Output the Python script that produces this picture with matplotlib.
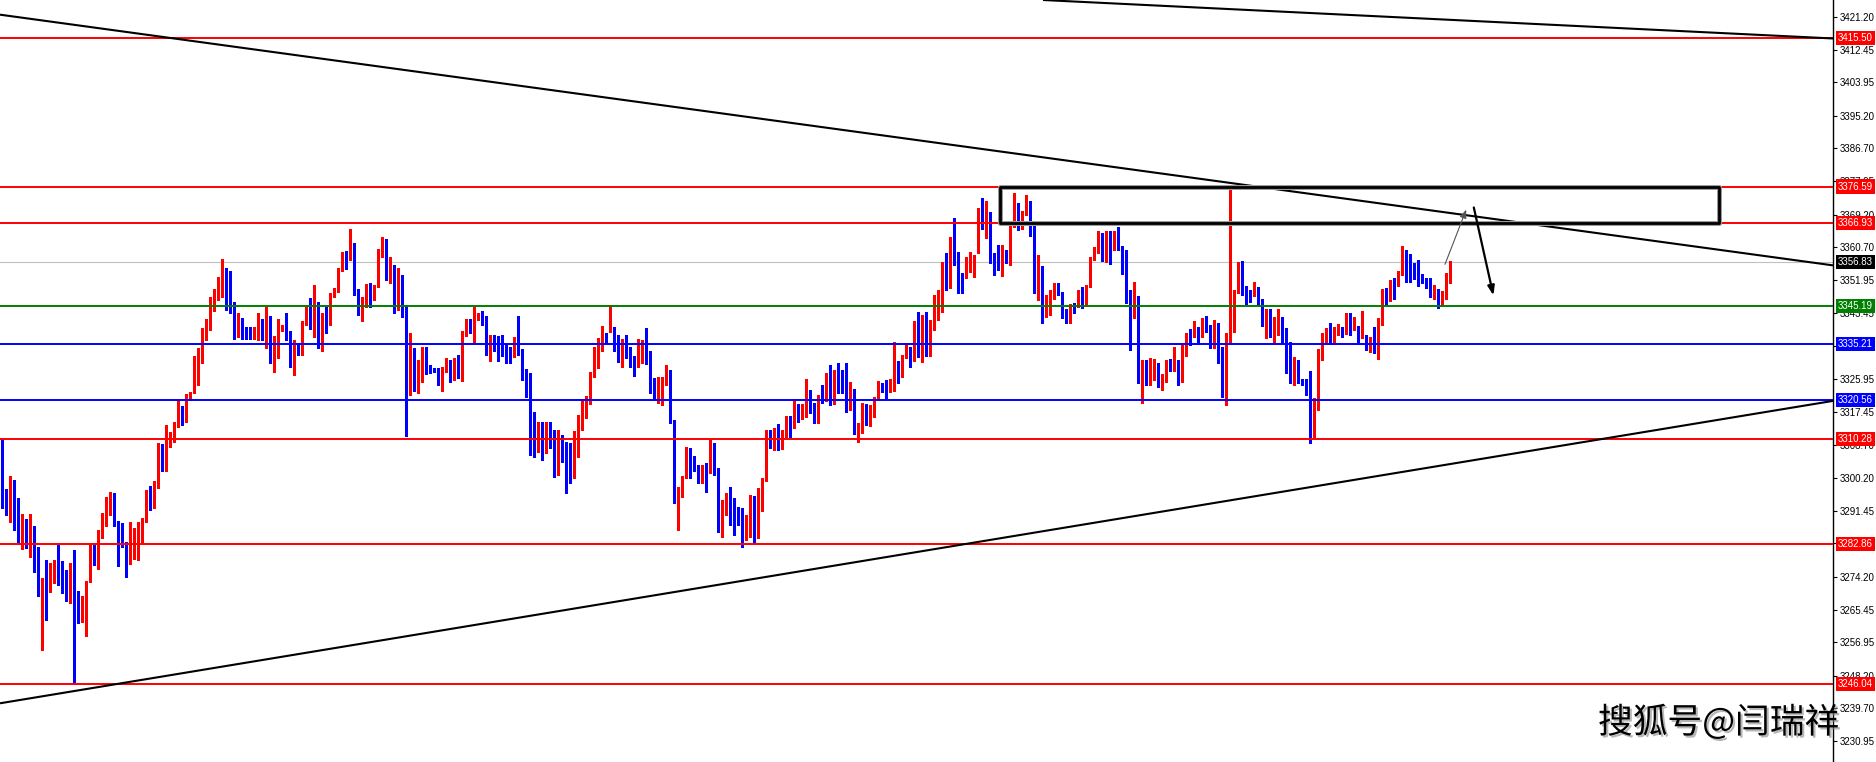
import matplotlib
matplotlib.use("Agg")
import matplotlib.pyplot as plt
import matplotlib.patheffects as pe
from matplotlib.patches import Rectangle
import numpy as np

# OHLC, one value per bar
opens = [
    3308.5, 3294.1, 3293.4, 3296.9, 3294.8, 3283.9, 3289.3, 3282.1, 3285.2, 3281.0,
    3269.4, 3274.0, 3271.8, 3274.0, 3277.3, 3277.0, 3275.5, 3269.9, 3275.5, 3263.5,
    3263.0, 3263.9, 3272.9, 3279.6, 3278.4, 3284.9, 3288.6, 3291.7, 3292.6, 3288.8,
    3287.5, 3283.1, 3277.5, 3281.7, 3284.3, 3286.9, 3288.9, 3296.9, 3293.3, 3297.9,
    3308.3, 3302.7, 3311.0, 3312.1, 3314.0, 3317.5, 3315.5, 3320.6, 3322.4, 3328.0,
    3330.6, 3339.0, 3339.0, 3345.1, 3348.3, 3348.1, 3354.5, 3350.5, 3345.5, 3339.9,
    3341.3, 3339.4, 3337.7, 3337.4, 3338.3, 3341.4, 3338.1, 3339.0, 3331.7, 3336.8,
    3339.2, 3339.8, 3338.5, 3333.0, 3334.6, 3332.8, 3341.1, 3344.2, 3337.2, 3345.3,
    3338.3, 3342.9, 3340.7, 3348.1, 3349.3, 3354.5, 3358.2, 3358.0, 3361.7, 3349.3,
    3344.4, 3345.5, 3350.9, 3347.0, 3350.3, 3359.1, 3361.9, 3352.7, 3355.8, 3345.3,
    3353.0, 3345.3, 3324.1, 3331.5, 3324.1, 3327.6, 3333.5, 3328.7, 3328.6, 3328.5,
    3325.1, 3328.5, 3330.2, 3328.3, 3329.5, 3326.7, 3337.7, 3340.5, 3339.0, 3342.3,
    3342.5, 3342.5, 3333.9, 3336.5, 3334.3, 3333.7, 3333.5, 3333.0, 3332.0, 3335.5,
    3333.3, 3328.3, 3326.1, 3316.2, 3308.3, 3311.8, 3307.3, 3312.9, 3309.8, 3301.5,
    3308.5, 3308.5, 3301.8, 3301.4, 3309.2, 3316.0, 3317.5, 3320.6, 3326.9, 3331.3,
    3333.9, 3337.0, 3338.5, 3339.4, 3334.6, 3333.9, 3334.6, 3334.1, 3331.1, 3329.1,
    3333.5, 3335.9, 3333.3, 3323.2, 3321.5, 3324.3, 3324.5, 3327.9, 3314.9, 3295.9,
    3297.7, 3300.0, 3305.9, 3305.3, 3302.4, 3301.2, 3302.0, 3301.5, 3309.0, 3301.5,
    3288.0, 3292.8, 3293.4, 3292.1, 3291.9, 3291.5, 3284.5, 3288.6, 3295.2, 3284.5,
    3295.7, 3299.6, 3311.8, 3309.2, 3311.4, 3308.8, 3310.9, 3315.5, 3313.1, 3319.2,
    3316.6, 3316.9, 3321.4, 3318.8, 3315.1, 3321.9, 3320.4, 3325.1, 3320.4, 3328.4,
    3326.0, 3324.9, 3319.9, 3323.4, 3312.2, 3314.3, 3319.2, 3314.4, 3316.6, 3320.7,
    3324.5, 3323.9, 3322.7, 3323.0, 3330.0, 3329.1, 3332.2, 3333.4, 3331.5, 3333.7,
    3332.6, 3341.6, 3332.4, 3338.9, 3345.1, 3347.0, 3355.1, 3351.6, 3360.8, 3358.6,
    3353.4, 3352.9, 3355.6, 3355.7, 3362.6, 3369.1, 3366.9, 3367.4, 3358.2, 3357.0,
    3356.4, 3359.5, 3357.5, 3367.1, 3371.8, 3365.6, 3370.0, 3372.2, 3363.9, 3349.9,
    3354.9, 3342.9, 3347.3, 3347.3, 3350.7, 3348.6, 3343.9, 3343.9, 3345.5, 3345.1,
    3347.2, 3345.5, 3350.3, 3357.3, 3359.8, 3361.7, 3357.3, 3364.3, 3360.4, 3363.0,
    3360.8, 3354.4, 3348.7, 3346.1, 3347.7, 3328.3, 3328.9, 3324.9, 3328.3, 3330.0,
    3323.4, 3325.8, 3330.9, 3330.0, 3330.9, 3325.6, 3333.7, 3338.1, 3337.4, 3338.9,
    3337.4, 3341.6, 3339.8, 3334.4, 3338.9, 3334.1, 3326.2, 3337.9, 3343.5, 3348.6,
    3354.5, 3350.1, 3347.0, 3348.4, 3349.0, 3345.9, 3340.2, 3343.7, 3340.9, 3341.1,
    3342.4, 3339.4, 3335.6, 3325.4, 3328.4, 3325.4, 3325.4, 3323.9, 3312.7, 3319.5,
    3333.7, 3335.9, 3338.2, 3336.8, 3338.1, 3339.4, 3340.2, 3342.9, 3339.8, 3339.8,
    3337.2, 3337.2, 3334.5, 3336.7, 3333.0, 3341.6, 3349.4, 3346.8, 3352.0, 3350.7,
    3353.8, 3359.8, 3355.5, 3354.5, 3353.4, 3353.4, 3352.1, 3351.0, 3347.7, 3349.4,
    3347.2, 3349.0, 3351.4,
]
highs = [
    3310.5, 3297.1, 3300.6, 3299.6, 3294.8, 3290.7, 3289.3, 3290.7, 3287.5, 3282.1,
    3273.8, 3278.6, 3277.7, 3278.6, 3282.5, 3278.2, 3276.0, 3277.9, 3281.2, 3270.5,
    3269.0, 3273.1, 3282.5, 3282.5, 3286.5, 3290.8, 3295.2, 3296.3, 3296.1, 3288.8,
    3288.4, 3283.4, 3288.6, 3286.9, 3288.6, 3289.5, 3296.9, 3298.0, 3299.2, 3309.2,
    3309.0, 3314.0, 3312.1, 3314.9, 3320.6, 3318.9, 3322.1, 3322.6, 3332.0, 3334.2,
    3339.4, 3341.8, 3347.7, 3349.6, 3352.8, 3357.5, 3355.1, 3354.3, 3346.4, 3343.3,
    3342.0, 3339.8, 3339.8, 3339.8, 3343.5, 3341.8, 3344.9, 3342.6, 3337.4, 3341.9,
    3340.3, 3343.5, 3338.8, 3336.4, 3335.5, 3341.3, 3345.1, 3347.4, 3350.8, 3346.4,
    3343.3, 3345.1, 3348.6, 3349.9, 3355.1, 3359.3, 3359.7, 3365.4, 3361.9, 3349.6,
    3347.7, 3350.9, 3351.2, 3350.8, 3360.1, 3363.3, 3362.8, 3358.0, 3356.0, 3355.1,
    3353.4, 3345.5, 3338.1, 3334.3, 3331.1, 3334.6, 3334.6, 3329.8, 3328.9, 3328.9,
    3329.3, 3331.5, 3331.1, 3331.5, 3332.4, 3338.7, 3341.9, 3341.9, 3344.9, 3343.5,
    3343.8, 3342.5, 3337.6, 3337.5, 3337.4, 3337.6, 3335.3, 3334.6, 3337.2, 3342.5,
    3333.9, 3328.6, 3327.6, 3317.5, 3314.9, 3314.9, 3314.7, 3314.9, 3312.7, 3312.7,
    3311.4, 3309.6, 3309.2, 3312.3, 3316.7, 3320.8, 3321.5, 3327.8, 3334.6, 3336.8,
    3340.0, 3338.1, 3345.5, 3339.8, 3337.6, 3336.5, 3337.6, 3334.6, 3332.0, 3336.5,
    3336.4, 3339.4, 3333.3, 3326.3, 3326.7, 3326.7, 3329.8, 3328.5, 3315.3, 3297.8,
    3300.5, 3308.3, 3307.9, 3305.9, 3303.5, 3303.5, 3304.0, 3310.1, 3309.2, 3302.7,
    3294.3, 3296.1, 3297.7, 3294.8, 3292.6, 3292.1, 3290.4, 3295.7, 3295.4, 3297.4,
    3300.0, 3312.7, 3312.7, 3313.2, 3314.3, 3312.7, 3316.4, 3316.4, 3320.7, 3319.5,
    3319.5, 3326.0, 3323.2, 3319.7, 3321.9, 3324.5, 3327.7, 3329.8, 3328.4, 3330.2,
    3328.4, 3330.2, 3325.4, 3323.4, 3314.4, 3319.7, 3319.5, 3319.2, 3321.4, 3325.6,
    3324.9, 3325.8, 3326.0, 3335.9, 3330.9, 3332.4, 3335.6, 3334.6, 3341.3, 3343.7,
    3342.9, 3343.7, 3341.6, 3348.1, 3349.4, 3356.9, 3359.1, 3363.3, 3368.4, 3359.5,
    3353.8, 3358.2, 3359.5, 3358.6, 3370.9, 3373.7, 3372.9, 3370.0, 3359.2, 3361.2,
    3361.2, 3360.0, 3367.4, 3374.8, 3372.4, 3370.3, 3374.4, 3372.8, 3366.5, 3358.6,
    3355.7, 3348.1, 3349.4, 3351.2, 3351.2, 3349.0, 3344.4, 3345.8, 3345.9, 3349.4,
    3350.3, 3350.7, 3358.0, 3360.8, 3364.8, 3364.3, 3365.0, 3365.0, 3364.8, 3365.9,
    3361.0, 3359.9, 3349.4, 3351.6, 3347.9, 3331.1, 3331.1, 3331.5, 3331.2, 3330.4,
    3327.4, 3331.1, 3331.2, 3334.5, 3331.1, 3335.0, 3338.2, 3339.1, 3341.4, 3339.8,
    3342.0, 3342.6, 3340.2, 3341.6, 3340.7, 3334.5, 3338.1, 3376.6, 3349.4, 3356.9,
    3357.1, 3350.5, 3349.4, 3351.6, 3350.1, 3347.2, 3344.4, 3344.4, 3342.4, 3344.4,
    3342.4, 3339.4, 3335.9, 3331.9, 3331.1, 3326.0, 3326.0, 3328.3, 3321.0, 3333.9,
    3338.2, 3339.4, 3340.7, 3339.8, 3340.4, 3339.6, 3343.5, 3343.3, 3342.4, 3340.1,
    3344.0, 3337.6, 3337.2, 3339.6, 3342.0, 3349.6, 3349.9, 3352.1, 3352.5, 3354.5,
    3361.0, 3359.9, 3358.9, 3356.4, 3357.3, 3353.6, 3352.5, 3352.5, 3350.7, 3349.6,
    3349.3, 3354.0, 3357.0,
]
lows = [
    3292.1, 3290.4, 3288.6, 3286.5, 3283.0, 3281.4, 3281.7, 3279.3, 3275.5, 3269.0,
    3255.0, 3262.9, 3270.3, 3272.5, 3272.0, 3270.0, 3267.7, 3267.2, 3246.1, 3262.1,
    3262.4, 3258.7, 3272.9, 3277.3, 3276.1, 3284.3, 3287.4, 3290.4, 3287.5, 3276.9,
    3281.9, 3274.0, 3277.5, 3278.8, 3278.6, 3283.2, 3288.6, 3291.7, 3292.1, 3297.4,
    3301.8, 3301.8, 3308.2, 3309.6, 3313.4, 3314.0, 3314.9, 3320.6, 3322.4, 3324.5,
    3330.2, 3336.4, 3339.0, 3344.0, 3346.8, 3347.7, 3344.2, 3343.3, 3336.5, 3337.2,
    3336.5, 3336.5, 3336.5, 3336.5, 3336.4, 3336.4, 3334.2, 3330.4, 3328.0, 3331.5,
    3338.7, 3336.4, 3329.3, 3327.0, 3332.4, 3332.4, 3340.3, 3339.3, 3337.2, 3334.3,
    3333.5, 3338.1, 3340.3, 3347.7, 3349.0, 3354.3, 3355.0, 3357.3, 3348.1, 3342.9,
    3341.4, 3345.1, 3345.1, 3346.8, 3350.2, 3358.2, 3352.1, 3351.2, 3343.3, 3344.2,
    3342.4, 3311.1, 3321.9, 3323.0, 3322.5, 3325.4, 3327.4, 3327.6, 3328.0, 3324.5,
    3323.0, 3328.0, 3325.4, 3325.8, 3326.3, 3325.6, 3337.4, 3338.1, 3335.9, 3341.6,
    3340.3, 3332.4, 3330.8, 3333.3, 3330.8, 3332.0, 3330.4, 3330.4, 3331.8, 3332.4,
    3325.7, 3321.3, 3306.0, 3305.5, 3307.0, 3304.7, 3306.6, 3307.9, 3300.3, 3300.9,
    3304.4, 3296.1, 3298.9, 3300.0, 3305.7, 3312.7, 3315.8, 3319.5, 3326.7, 3328.9,
    3333.5, 3335.5, 3338.5, 3333.3, 3330.6, 3329.3, 3331.5, 3329.3, 3326.9, 3329.1,
    3330.2, 3330.0, 3322.5, 3320.6, 3319.9, 3319.3, 3324.5, 3314.5, 3293.6, 3286.5,
    3295.2, 3300.0, 3300.0, 3301.8, 3298.9, 3298.9, 3296.5, 3301.5, 3300.9, 3286.0,
    3284.5, 3290.4, 3287.8, 3285.2, 3287.8, 3282.1, 3283.8, 3284.5, 3283.0, 3284.3,
    3291.3, 3299.2, 3307.9, 3307.4, 3307.4, 3307.6, 3310.9, 3310.9, 3313.1, 3314.9,
    3315.5, 3316.2, 3317.1, 3314.6, 3314.4, 3319.9, 3320.4, 3319.2, 3319.5, 3322.3,
    3322.5, 3317.5, 3317.9, 3311.6, 3309.6, 3311.8, 3314.0, 3313.7, 3316.2, 3320.7,
    3322.7, 3321.0, 3322.7, 3323.0, 3324.9, 3326.7, 3331.5, 3329.1, 3330.9, 3331.9,
    3330.6, 3332.1, 3332.1, 3338.9, 3341.6, 3343.7, 3349.4, 3349.9, 3356.0, 3348.7,
    3348.7, 3352.6, 3354.2, 3352.9, 3359.2, 3365.4, 3363.0, 3356.4, 3353.4, 3354.7,
    3353.1, 3356.6, 3356.0, 3366.1, 3365.2, 3365.4, 3369.1, 3363.6, 3348.7, 3346.8,
    3340.7, 3342.4, 3342.9, 3347.0, 3348.1, 3342.0, 3340.7, 3340.9, 3343.5, 3345.1,
    3344.6, 3345.2, 3350.1, 3357.3, 3359.2, 3357.1, 3356.9, 3356.3, 3359.9, 3359.9,
    3353.6, 3345.9, 3333.7, 3342.0, 3324.9, 3319.7, 3324.5, 3324.5, 3325.8, 3324.1,
    3323.2, 3325.4, 3328.3, 3328.3, 3324.5, 3325.4, 3332.1, 3335.0, 3337.2, 3335.3,
    3337.2, 3338.5, 3334.1, 3334.1, 3330.4, 3321.4, 3319.2, 3335.9, 3338.5, 3348.6,
    3348.1, 3345.8, 3346.4, 3347.9, 3345.5, 3340.0, 3336.8, 3337.2, 3335.9, 3337.6,
    3335.4, 3327.7, 3324.9, 3324.5, 3324.9, 3324.5, 3321.9, 3309.4, 3310.8, 3317.9,
    3331.1, 3335.4, 3335.6, 3335.3, 3337.6, 3337.2, 3337.9, 3337.6, 3338.9, 3335.3,
    3336.8, 3333.7, 3333.2, 3333.0, 3331.2, 3340.3, 3345.8, 3346.6, 3347.2, 3350.5,
    3353.4, 3351.6, 3351.6, 3352.2, 3350.5, 3351.4, 3349.9, 3347.5, 3347.2, 3344.6,
    3345.2, 3347.0, 3351.4,
]
closes = [
    3293.6, 3293.4, 3296.9, 3294.8, 3283.9, 3288.8, 3282.1, 3285.2, 3280.8, 3269.4,
    3273.8, 3271.8, 3274.2, 3277.3, 3276.9, 3275.3, 3269.9, 3274.0, 3263.3, 3263.0,
    3264.2, 3273.1, 3279.6, 3278.4, 3285.2, 3288.6, 3291.7, 3292.6, 3288.6, 3287.4,
    3283.0, 3277.3, 3283.0, 3284.5, 3286.9, 3289.1, 3296.9, 3293.4, 3298.0, 3308.3,
    3302.4, 3311.1, 3312.1, 3314.5, 3317.5, 3315.3, 3320.8, 3322.6, 3328.0, 3331.1,
    3339.4, 3339.2, 3345.5, 3348.0, 3349.0, 3354.5, 3350.3, 3343.3, 3340.0, 3341.3,
    3339.1, 3337.4, 3337.5, 3338.3, 3341.2, 3338.3, 3339.0, 3334.2, 3336.5, 3339.4,
    3339.8, 3338.5, 3333.0, 3334.6, 3333.0, 3341.3, 3343.9, 3341.6, 3345.3, 3337.0,
    3342.9, 3340.5, 3348.4, 3349.6, 3354.7, 3358.2, 3356.6, 3361.7, 3349.0, 3344.4,
    3345.5, 3350.8, 3345.5, 3350.5, 3359.3, 3361.9, 3352.7, 3355.8, 3345.3, 3353.0,
    3345.3, 3324.1, 3331.5, 3324.1, 3327.6, 3333.5, 3328.5, 3328.5, 3328.5, 3325.4,
    3328.6, 3330.2, 3328.3, 3329.5, 3326.7, 3337.8, 3340.5, 3339.0, 3342.5, 3342.6,
    3342.3, 3333.9, 3336.5, 3333.9, 3333.5, 3333.3, 3332.7, 3332.0, 3337.0, 3333.0,
    3328.3, 3326.1, 3315.8, 3308.3, 3311.8, 3307.3, 3312.9, 3309.4, 3301.5, 3308.5,
    3308.3, 3301.5, 3301.4, 3309.2, 3316.2, 3317.5, 3320.6, 3327.2, 3331.5, 3334.2,
    3336.8, 3335.6, 3339.4, 3334.1, 3333.9, 3334.6, 3333.9, 3331.1, 3329.1, 3333.7,
    3335.9, 3333.3, 3323.0, 3321.5, 3324.3, 3324.5, 3328.0, 3314.6, 3295.9, 3297.8,
    3300.3, 3305.9, 3304.9, 3302.2, 3301.2, 3302.0, 3301.5, 3309.0, 3301.4, 3288.0,
    3292.8, 3293.4, 3288.6, 3291.3, 3291.3, 3284.5, 3288.6, 3295.2, 3284.5, 3295.9,
    3299.7, 3311.8, 3309.2, 3311.4, 3308.8, 3311.1, 3315.5, 3313.1, 3319.2, 3316.6,
    3317.1, 3321.4, 3318.6, 3315.1, 3321.9, 3320.6, 3324.9, 3320.6, 3328.4, 3326.0,
    3324.7, 3320.1, 3323.4, 3312.2, 3314.4, 3319.2, 3314.4, 3316.6, 3321.0, 3324.5,
    3323.0, 3322.3, 3323.2, 3330.0, 3329.3, 3332.4, 3333.4, 3331.5, 3333.7, 3332.4,
    3341.6, 3332.4, 3339.2, 3345.2, 3347.3, 3355.1, 3351.6, 3360.8, 3358.4, 3352.9,
    3352.9, 3355.7, 3356.0, 3357.0, 3369.1, 3366.2, 3367.4, 3357.7, 3356.9, 3356.6,
    3359.5, 3357.3, 3367.4, 3371.8, 3365.6, 3370.3, 3372.0, 3363.9, 3349.9, 3351.0,
    3342.9, 3348.1, 3348.1, 3350.7, 3348.6, 3343.7, 3342.6, 3345.5, 3345.1, 3347.2,
    3345.5, 3350.5, 3357.5, 3360.1, 3361.7, 3357.5, 3364.3, 3360.4, 3363.0, 3360.8,
    3354.0, 3348.4, 3345.9, 3347.7, 3328.4, 3328.9, 3324.9, 3328.4, 3330.0, 3324.2,
    3326.0, 3330.9, 3330.0, 3330.9, 3325.6, 3333.9, 3338.1, 3337.2, 3338.9, 3337.4,
    3341.6, 3339.6, 3334.4, 3338.9, 3334.1, 3326.2, 3337.9, 3343.6, 3348.7, 3354.5,
    3349.9, 3346.8, 3346.6, 3349.0, 3345.8, 3340.2, 3343.7, 3341.4, 3341.4, 3342.4,
    3339.1, 3335.4, 3325.4, 3328.4, 3325.4, 3325.1, 3323.6, 3312.5, 3320.6, 3333.7,
    3336.3, 3338.2, 3336.8, 3338.2, 3339.4, 3338.2, 3342.9, 3339.4, 3341.1, 3337.2,
    3343.7, 3334.1, 3336.7, 3333.0, 3341.7, 3349.4, 3346.8, 3352.0, 3350.7, 3354.2,
    3359.9, 3355.1, 3354.2, 3353.1, 3353.1, 3351.6, 3350.7, 3347.7, 3350.3, 3347.2,
    3349.0, 3351.6, 3356.83,
]

# horizontal price levels and their label colours
level_prices = [3415.50, 3376.59, 3366.93, 3345.19, 3335.21, 3320.56, 3310.28, 3282.86, 3246.04]
level_colors = ["#ff0000", "#ff0000", "#ff0000", "#008000", "#0000ff", "#0000ff", "#ff0000", "#ff0000", "#ff0000"]
current_price = 3356.83

tick_prices = [3421.20, 3412.45, 3403.95, 3395.20, 3386.70, 3377.95, 3369.20, 3360.70,
               3351.95, 3343.45, 3334.70, 3325.95, 3317.45, 3308.70, 3300.20, 3291.45,
               3282.95, 3274.20, 3265.45, 3256.95, 3248.20, 3239.70, 3230.95]

# trend lines: (bar, price) -> (bar, price)
trend_lines = [
    ((-0.5, 3421.7), (457.75, 3355.9)),
    ((260.25, 3425.55), (457.75, 3415.45)),
    ((-0.5, 3240.96), (457.75, 3320.33)),
]
box_bars = (249.5, 429.25)
box_prices = (3366.93, 3376.59)
arrow_up = ((360.5, 3355.5), (366.3, 3371.2))
arrow_down = ((367.8, 3371.8), (373.0, 3347.3))

watermark = "搜狐号@闫瑞祥"

W, H = 1876, 762
PLOT_W = 1833


def main():
    plt.rcParams["font.family"] = ["Liberation Sans", "DejaVu Sans"]
    fig = plt.figure(figsize=(W / 100, H / 100), dpi=100, facecolor="white")
    ax = fig.add_axes([0, 0, PLOT_W / W, 1])
    ax.set_facecolor("white")

    o = np.array(opens)
    h = np.array(highs)
    l = np.array(lows)
    c = np.array(closes)
    x = np.arange(len(o))
    cols = np.where(c >= o, "#ff0000", "#0000ff")

    ax.axhline(current_price, color="#c0c0c0", lw=0.8, zorder=1)

    # candles, crisp like the terminal draws them
    ax.vlines(x, l, h, colors=cols, linewidth=0.75, zorder=2, antialiased=False)
    body_low = np.minimum(o, c)
    body_h = np.maximum(np.abs(c - o), 0.25)
    ax.bar(x, body_h, bottom=body_low, width=0.75, color=cols, linewidth=0,
           zorder=3, antialiased=False)

    # levels on top of candles
    for p, col in zip(level_prices, level_colors):
        ax.axhline(p, color=col, lw=1.4, zorder=4)

    for (x0, y0), (x1, y1) in trend_lines:
        ax.plot([x0, x1], [y0, y1], color="black", lw=1.5, zorder=5,
                solid_capstyle="butt")

    # the resistance box
    bx0, bx1 = box_bars
    by0, by1 = box_prices
    halo = Rectangle((bx0, by0), bx1 - bx0, by1 - by0, fill=False,
                     ec="#9a9a9a", lw=3.6, joinstyle="round", zorder=5)
    rect = Rectangle((bx0, by0), bx1 - bx0, by1 - by0, fill=False,
                     ec="black", lw=2.0, joinstyle="round", zorder=6)
    ax.add_patch(halo)
    ax.add_patch(rect)

    ax.annotate("", xy=arrow_up[1], xytext=arrow_up[0],
                arrowprops=dict(arrowstyle="-|>,head_length=0.5,head_width=0.2",
                                color="#555555", lw=0.8), zorder=6)
    ax.annotate("", xy=arrow_down[1], xytext=arrow_down[0],
                arrowprops=dict(arrowstyle="-|>,head_length=0.55,head_width=0.2",
                                color="black", lw=1.6), zorder=6)

    ax.set_xlim(-0.5, (PLOT_W - 2) / 4)
    ax.set_ylim(3425.55 - H / 3.81, 3425.55)

    for side in ["left", "top", "bottom"]:
        ax.spines[side].set_visible(False)
    ax.spines["right"].set_linewidth(1.0)
    ax.set_xticks([])
    ax.yaxis.tick_right()
    ax.set_yticks(tick_prices)
    ax.set_yticklabels([f"{p:.2f}" for p in tick_prices])
    ax.tick_params(axis="y", direction="out", length=3, width=0.8, pad=1.5,
                   labelsize=7, colors="black")

    # coloured price tags on the axis (they sit over the tick labels, as in the terminal)
    tags = list(zip(level_prices, level_colors)) + [(current_price, "black")]
    for p, col in tags:
        ax.annotate(f"{p:.2f}", xy=(1, p), xycoords=ax.get_yaxis_transform(),
                    xytext=(5, 0), textcoords="offset pixels", ha="left", va="center",
                    color="white", fontsize=7, annotation_clip=False, zorder=10,
                    bbox=dict(boxstyle="square,pad=0.22", fc=col, ec="none"))

    fig.text(1598 / W, 1 - 723 / H, watermark, ha="left", va="center", fontsize=25,
             color="black", family=["Noto Sans CJK SC", "DejaVu Sans"],
             path_effects=[pe.withSimplePatchShadow(offset=(1.5, -1.5),
                                                    shadow_rgbFace="#888888", alpha=0.6)])

    fig.savefig("out.png", dpi=100, facecolor="white")


if __name__ == "__main__":
    main()
